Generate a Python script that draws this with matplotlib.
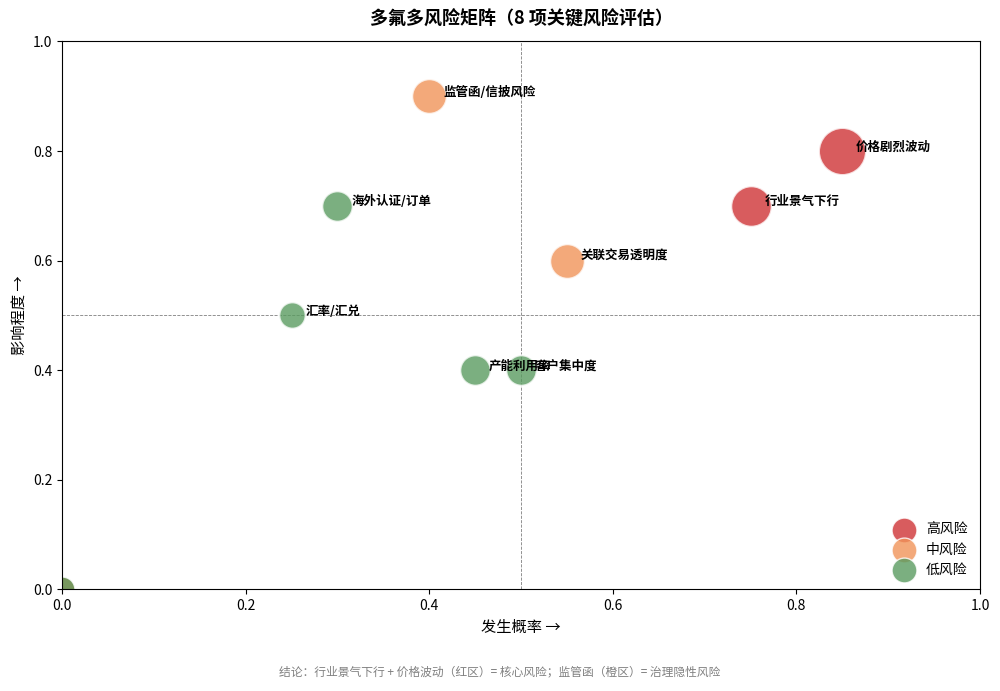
import matplotlib
matplotlib.use("Agg")
import matplotlib.pyplot as plt

plt.rcParams["font.family"] = ["Noto Sans CJK SC", "DejaVu Sans"]
plt.rcParams["axes.unicode_minus"] = False

# risk items: probability, impact, bubble size, level
risks = ["价格剧烈波动", "行业景气下行", "监管函/信披风险", "关联交易透明度",
         "海外认证/订单", "汇率/汇兑", "产能利用率", "客户集中度"]
prob = [0.85, 0.75, 0.40, 0.55, 0.30, 0.25, 0.45, 0.50]
impact = [0.80, 0.70, 0.90, 0.60, 0.70, 0.50, 0.40, 0.40]
sizes = [1150, 850, 620, 620, 480, 360, 480, 480]
levels = ["高", "高", "中", "中", "低", "低", "低", "低"]

level_names = ["高风险", "中风险", "低风险"]
level_colors = {"高": "#cf3336", "中": "#f19459", "低": "#5a9b60"}

fig, ax = plt.subplots(figsize=(10, 6.91), dpi=100)
fig.subplots_adjust(left=0.062, right=0.98, top=0.94, bottom=0.147)

for name, x, y, s, lv in zip(risks, prob, impact, sizes, levels):
    ax.scatter(x, y, s=s, color=level_colors[lv], alpha=0.8,
               edgecolors="white", linewidths=1.5, zorder=3)
    ax.annotate(name, (x, y), xytext=(10, 3), textcoords="offset points",
                fontsize=9, fontweight="bold", va="center", zorder=4)

# legend proxies
for lbl, key in zip(level_names, ["高", "中", "低"]):
    ax.scatter([0], [0], s=320, color=level_colors[key], alpha=0.8,
               edgecolors="white", linewidths=1, label=lbl)

ax.axhline(0.5, color="gray", linestyle="--", linewidth=0.6, zorder=1)
ax.axvline(0.5, color="gray", linestyle="--", linewidth=0.6, zorder=1)

ax.set_xlim(0, 1)
ax.set_ylim(0, 1)
ax.set_xlabel("发生概率 →", fontsize=11)
ax.set_ylabel("影响程度 →", fontsize=11)
ax.set_title("多氟多风险矩阵（8 项关键风险评估）", fontsize=13,
             fontweight="bold", pad=12)
ax.tick_params(labelsize=10)
ax.legend(loc="lower right", frameon=False, fontsize=10, handletextpad=0.6,
          labelspacing=0.45)

fig.text(0.5, 0.022, "结论：行业景气下行 + 价格波动（红区）= 核心风险；监管函（橙区）= 治理隐性风险",
         ha="center", fontsize=8.5, color="gray")

fig.savefig("out.png", dpi=100)
